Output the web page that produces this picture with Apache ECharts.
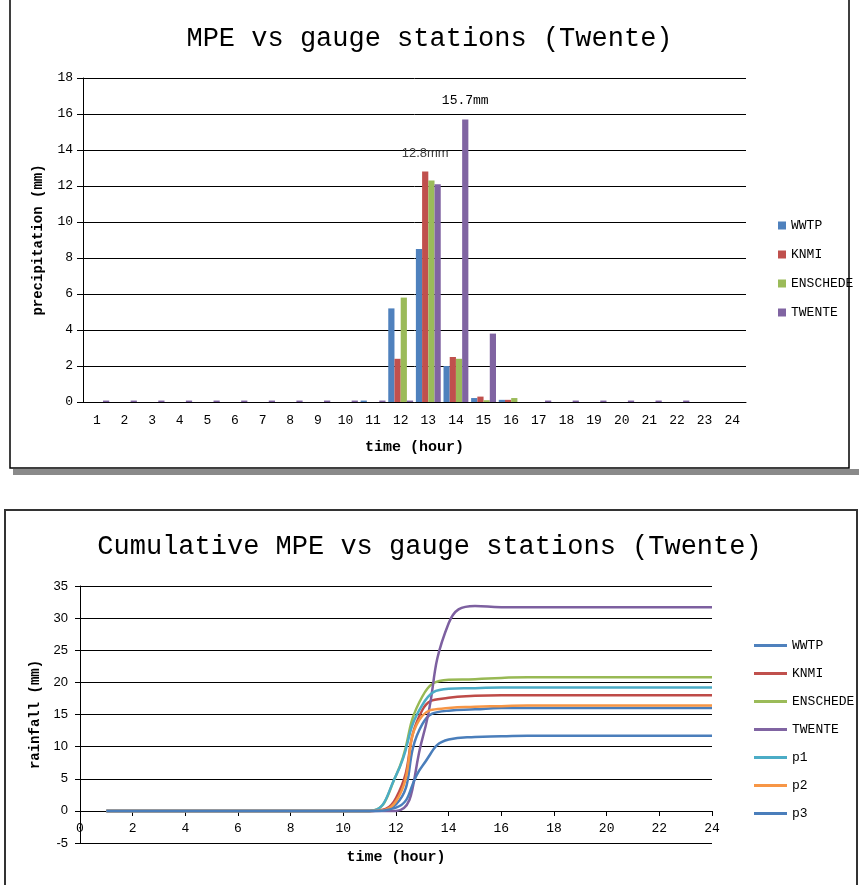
<!DOCTYPE html>
<html>
<head>
<meta charset="utf-8">
<script src="https://cdn.jsdelivr.net/npm/echarts@6/dist/echarts.min.js"></script>
<style>
  html, body { margin: 0; padding: 0; background: #fff; }
  #main { width: 859px; height: 885px; }
</style>
</head>
<body>
<div id="main"></div>
<script>
// hourly precipitation (top chart)
var hourCats = ['1','2','3','4','5','6','7','8','9','10','11','12','13','14','15','16','17','18','19','20','21','22','23','24'];
var wwtpHourly     = [0,0,0,0,0,0,0,0,0,0,0.08,5.2,8.5,2.0,0.22,0.12,0,0,0,0,0,0,0,0];
var knmiHourly     = [0,0,0,0,0,0,0,0,0,0,0,2.4,12.8,2.5,0.3,0.12,0,0,0,0,0,0,0,0];
var enschedeHourly = [0,0,0,0,0,0,0,0,0,0,0,5.8,12.3,2.4,0.1,0.22,0,0,0,0,0,0,0,0];
var twenteHourly   = [0.08,0.08,0.08,0.08,0.08,0.08,0.08,0.08,0.08,0.08,0.08,0.08,12.1,15.7,3.8,0,0.08,0.08,0.08,0.08,0.08,0.08,0,0];

// cumulative rainfall (bottom chart)
var hours       = [1,2,3,4,5,6,7,8,9,10,11,12,13,14,15,16,17,18,19,20,21,22,23,24];
var wwtpCum     = [0,0,0,0,0,0,0,0,0,0,0,1.0,13.5,15.6,15.8,16.0,16.0,16.0,16.0,16.0,16.0,16.0,16.0,16.0];
var knmiCum     = [0,0,0,0,0,0,0,0,0,0,0,2.0,15.7,17.6,17.9,18.0,18.0,18.0,18.0,18.0,18.0,18.0,18.0,18.0];
var enschedeCum = [0,0,0,0,0,0,0,0,0,0,0,5.5,17.8,20.4,20.5,20.7,20.8,20.8,20.8,20.8,20.8,20.8,20.8,20.8];
var twenteCum   = [0,0,0,0,0,0,0,0,0,0,0,0,11.2,29.2,31.9,31.7,31.7,31.7,31.7,31.7,31.7,31.7,31.7,31.7];
var p1Cum       = [0,0,0,0,0,0,0,0,0,0,0,5.5,16.5,19.0,19.1,19.2,19.2,19.2,19.2,19.2,19.2,19.2,19.2,19.2];
var p2Cum       = [0,0,0,0,0,0,0,0,0,0,0,1.5,14.8,16.0,16.2,16.3,16.4,16.4,16.4,16.4,16.4,16.4,16.4,16.4];
var p3Cum       = [0,0,0,0,0,0,0,0,0,0,0,0.5,7.0,11.1,11.5,11.6,11.7,11.7,11.7,11.7,11.7,11.7,11.7,11.7];

var mono = "'Liberation Mono', monospace";
var sans = "'Liberation Sans', Arial, sans-serif";

function pairs(vals) {
  return hours.map(function (h, i) { return [h, vals[i]]; });
}
function withLabel(vals, idx, text, font, color) {
  return vals.map(function (v, i) {
    if (i !== idx) return v;
    return { value: v, label: { show: true, position: 'top', distance: 12, formatter: text,
      fontFamily: font, fontSize: 13, color: color } };
  });
}
function lineSeries(name, vals, color) {
  return {
    name: name, type: 'line', xAxisIndex: 1, yAxisIndex: 1,
    data: pairs(vals), smooth: true, showSymbol: false,
    lineStyle: { color: color, width: 2.5 }, itemStyle: { color: color }
  };
}

var myChart = echarts.init(document.getElementById('main'));
myChart.setOption({
  animation: false,
  title: [
    { text: 'MPE vs gauge stations (Twente)', left: 'center', top: 20,
      textStyle: { fontFamily: mono, fontSize: 27, fontWeight: 'normal', color: '#000' } },
    { text: 'Cumulative MPE vs gauge stations (Twente)', left: 'center', top: 528,
      textStyle: { fontFamily: mono, fontSize: 27, fontWeight: 'normal', color: '#000' } }
  ],
  legend: [
    { orient: 'vertical', left: 773, top: 214, itemWidth: 8, itemHeight: 8, itemGap: 16, icon: 'rect',
      data: ['WWTP', 'KNMI', 'ENSCHEDE', 'TWENTE'],
      textStyle: { fontFamily: mono, fontSize: 13, color: '#000' } },
    { orient: 'vertical', left: 749, top: 634, itemWidth: 33, itemHeight: 3, itemGap: 15, icon: 'rect',
      data: ['WWTP', 'KNMI', 'ENSCHEDE', 'TWENTE', 'p1', 'p2', 'p3'],
      textStyle: { fontFamily: mono, fontSize: 13, color: '#000' } }
  ],
  grid: [
    { left: 83, right: 113, top: 78, bottom: 483, outerBoundsMode: 'none' },
    { left: 80, right: 147, top: 586, bottom: 42, outerBoundsMode: 'none' }
  ],
  xAxis: [
    { type: 'category', gridIndex: 0, data: hourCats,
      name: 'time (hour)', nameLocation: 'middle', nameGap: 38,
      nameTextStyle: { fontFamily: mono, fontSize: 15, fontWeight: 'bold', color: '#000' },
      axisLine: { lineStyle: { color: '#000', width: 1 } },
      axisTick: { interval: 0, length: 5, lineStyle: { color: '#000' } },
      axisLabel: { interval: 0, margin: 12, fontFamily: mono, fontSize: 13, color: '#000' } },
    { type: 'value', gridIndex: 1, min: 0, max: 24, interval: 2, offset: -32,
      name: 'time (hour)', nameLocation: 'middle', nameGap: 39,
      nameTextStyle: { fontFamily: mono, fontSize: 15, fontWeight: 'bold', color: '#000' },
      axisLine: { onZero: false, lineStyle: { color: '#000', width: 1 } },
      axisTick: { length: 5, lineStyle: { color: '#000' } },
      axisLabel: { margin: 11, fontFamily: mono, fontSize: 13, color: '#000' },
      splitLine: { show: false } }
  ],
  yAxis: [
    { type: 'value', gridIndex: 0, min: 0, max: 18, interval: 2,
      name: 'precipitation (mm)', nameLocation: 'middle', nameGap: 38,
      nameTextStyle: { fontFamily: mono, fontSize: 14, fontWeight: 'bold', color: '#000' },
      axisLine: { show: true, lineStyle: { color: '#000', width: 1 } },
      axisTick: { show: true, length: 6, lineStyle: { color: '#000' } },
      axisLabel: { margin: 10, fontFamily: mono, fontSize: 13, color: '#000' },
      splitLine: { lineStyle: { color: '#000', width: 1 } } },
    { type: 'value', gridIndex: 1, min: -5, max: 35, interval: 5,
      name: 'rainfall (mm)', nameLocation: 'middle', nameGap: 38,
      nameTextStyle: { fontFamily: mono, fontSize: 14, fontWeight: 'bold', color: '#000' },
      axisLine: { show: true, onZero: false, lineStyle: { color: '#000', width: 1 } },
      axisTick: { show: true, length: 5, lineStyle: { color: '#000' } },
      axisLabel: { margin: 12, fontFamily: sans, fontSize: 13, color: '#000' },
      splitLine: { lineStyle: { color: '#000', width: 1 } } }
  ],
  graphic: [
    { type: 'rect', shape: { x: 13, y: 469, width: 846, height: 6 }, style: { fill: '#8a8a8a' } },
    { type: 'rect', shape: { x: 10, y: -2, width: 839, height: 470 },
      style: { fill: 'transparent', stroke: '#000', lineWidth: 1.5 } },
    { type: 'rect', shape: { x: 5, y: 510, width: 852, height: 380 },
      style: { fill: 'transparent', stroke: '#333', lineWidth: 2 } }
  ],
  series: [
    { name: 'WWTP', type: 'bar', xAxisIndex: 0, yAxisIndex: 0, data: wwtpHourly,
      barGap: '0%', barCategoryGap: '10%', itemStyle: { color: '#4F81BD' } },
    { name: 'KNMI', type: 'bar', xAxisIndex: 0, yAxisIndex: 0,
      data: withLabel(knmiHourly, 12, '12.8mm', sans, '#404040'),
      barGap: '0%', barCategoryGap: '10%', itemStyle: { color: '#C0504D' } },
    { name: 'ENSCHEDE', type: 'bar', xAxisIndex: 0, yAxisIndex: 0, data: enschedeHourly,
      barGap: '0%', barCategoryGap: '10%', itemStyle: { color: '#9BBB59' } },
    { name: 'TWENTE', type: 'bar', xAxisIndex: 0, yAxisIndex: 0,
      data: withLabel(twenteHourly, 13, '15.7mm', mono, '#000'),
      barGap: '0%', barCategoryGap: '10%', itemStyle: { color: '#8064A2' } },
    lineSeries('WWTP', wwtpCum, '#4A7EBB'),
    lineSeries('KNMI', knmiCum, '#BE4B48'),
    lineSeries('ENSCHEDE', enschedeCum, '#98B954'),
    lineSeries('TWENTE', twenteCum, '#7D60A0'),
    lineSeries('p1', p1Cum, '#4BACC6'),
    lineSeries('p2', p2Cum, '#F79646'),
    lineSeries('p3', p3Cum, '#4A7EBB')
  ]
});
</script>
</body>
</html>
